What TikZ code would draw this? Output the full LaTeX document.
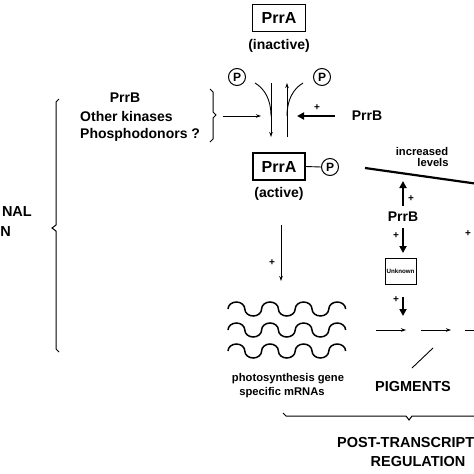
\documentclass[tikz,border=0pt]{standalone}
\usepackage{fontspec}
\setmainfont{Liberation Sans}
\usetikzlibrary{arrows.meta}
\newcommand{\fs}[1]{\fontsize{#1}{#1}\selectfont}
\begin{document}
\begin{tikzpicture}[x=1pt,y=-1pt,
  every node/.style={inner sep=0pt,font=\bfseries},
  protbox/.style={draw,line width=1.1pt,minimum width=53pt,minimum height=27pt,font=\bfseries\fs{16}},
  pcirc/.style={circle,draw,line width=1pt,minimum size=17pt,font=\bfseries\fs{12}},
  lbl/.style={font=\bfseries\fs{14}},
  small/.style={font=\bfseries\fs{11.2}},
  plus/.style={font=\bfseries\fs{10}},
  big/.style={font=\bfseries\fs{14.5}},
  thin/.style={line width=0.9pt},
  thinarr/.style={line width=0.9pt,-{Stealth[length=5pt,width=3.5pt]}},
  thickarr/.style={line width=2.4pt,-{Triangle[length=7pt,width=7pt]}},
  wave/.style={line width=1.5pt},
  brace/.style={line width=1pt}]
\useasboundingbox (0,0) rectangle (474,474);
\fill[white] (0,0) rectangle (474,474);

% top PrrA (inactive)
\node[protbox] (prrA1) at (279,18) {PrrA};
\node[lbl] (inact) at (279,46) {(inactive)};

% phosphorylation
\node[pcirc] (pL) at (237,77) {P};
\node[pcirc] (pR) at (322,77) {P};
\coordinate (lt) at (271,83);
\coordinate (lb) at (271,137);
\coordinate (rt) at (287,83);
\coordinate (rb) at (287,137);
\coordinate (cl) at (255,83);
\coordinate (cr) at (303,83);
\coordinate (ml) at (271,116);
\coordinate (mr) at (287,116);
\draw[thinarr] (lt) -- (lb);
\draw[thinarr] (rb) -- (rt);
\draw[thin] (cl) .. controls (265,89) and (271,100) .. (ml);
\draw[thin] (mr) .. controls (287,100) and (293,89) .. (cr);

% left kinases
\node[lbl] (prrBl) at (125,98) {PrrB};
\node[lbl,anchor=west] (ok) at (80,116) {Other kinases};
\node[lbl,anchor=west] (pd) at (80,135) {Phosphodonors ?};
\draw[brace] (210,89) -- (213,92) -- (213,112) -- (216,115) -- (213,118) -- (213,139) -- (210,142);
\coordinate (ha1) at (223,116);
\coordinate (ha2) at (261,116);
\draw[thinarr] (ha1) -- (ha2);

% right PrrB
\node[lbl] (prrBr) at (367,116) {PrrB};
\coordinate (ta1) at (335,116);
\coordinate (ta2) at (297,116);
\draw[thickarr] (ta1) -- (ta2);
\node[plus] (pl1) at (317,108) {+};

% active PrrA
\node[protbox,minimum width=52pt] (prrA2) at (279,166.5) {PrrA};
\node[pcirc] (pA) at (330,167) {P};
\draw[thin] (prrA2.east) -- (pA.west);
\node[lbl] (act) at (279,194) {(active)};

% arrow to mRNAs
\coordinate (da1) at (281,225);
\coordinate (da2) at (281,281);
\draw[thinarr] (da1) -- (da2);
\node[plus] (pl2) at (272,263) {+};

% waves
\foreach \yy in {309,330,351}{
  \draw[wave] (228,\yy)
    arc[start angle=180,end angle=360,x radius=8.4,y radius=7]
    arc[start angle=180,end angle=0,x radius=8.4,y radius=7]
    arc[start angle=180,end angle=360,x radius=8.4,y radius=7]
    arc[start angle=180,end angle=0,x radius=8.4,y radius=7]
    arc[start angle=180,end angle=360,x radius=8.4,y radius=7]
    arc[start angle=180,end angle=0,x radius=8.4,y radius=7]
    arc[start angle=180,end angle=360,x radius=8.4,y radius=7];
}
\node[small] (ps1) at (288,379) {photosynthesis gene};
\node[small] (ps2) at (282,393) {specific mRNAs};

% increased levels line
\coordinate (il1) at (365,168);
\coordinate (il2) at (482,184.5);
\draw[line width=2.2pt] (il1) -- (il2);
\node[small] (inc) at (422,151) {increased};
\node[small] (lev) at (433,162) {levels};

% PrrB middle
\node[lbl] (prrBm) at (403,217) {PrrB};
\coordinate (ua1) at (403,206);
\coordinate (ua2) at (403,181);
\draw[thickarr] (ua1) -- (ua2);
\node[plus] (pl3) at (411,199) {+};
\coordinate (dn1) at (403,228);
\coordinate (dn2) at (403,253);
\draw[thickarr] (dn1) -- (dn2);
\node[plus] (pl4) at (396,236) {+};

\node[draw,line width=0.9pt,minimum width=31pt,minimum height=26pt,font=\bfseries\fs{6.2}] (unk) at (400.5,271) {Unknown};
\coordinate (dn3) at (403,297);
\coordinate (dn4) at (403,316);
\draw[thickarr] (dn3) -- (dn4);
\node[plus] (pl5) at (396,300) {+};
\node[plus] (pl6) at (468,234) {+};

% pathway arrows
\coordinate (pa1) at (376,330);
\coordinate (pa2) at (406,330);
\coordinate (pa3) at (421,330);
\coordinate (pa4) at (451,330);
\coordinate (pa5) at (465,330);
\coordinate (pa6) at (490,330);
\draw[thinarr] (pa1) -- (pa2);
\draw[thinarr] (pa3) -- (pa4);
\draw[thinarr] (pa5) -- (pa6);
\coordinate (sl1) at (412,368);
\coordinate (sl2) at (433,348);
\draw[thin] (sl1) -- (sl2);
\node[big] (pig) at (413,387) {PIGMENTS};

% bottom brace
\draw[brace] (283,413) -- (286,416) -- (406,416) -- (409,420) -- (412,416) -- (490,416);
\node[big,anchor=west] (post1) at (337,443) {POST-TRANSCRIPT};
\node[big] (post2) at (418,462) {REGULATION};

% left brace
\draw[brace] (59,99) -- (56,102) -- (56,225) -- (52,228) -- (56,231) -- (56,349) -- (59,352);
\node[big,anchor=east] (tr1) at (32,212) {NAL};
\node[big,anchor=east] (tr2) at (11,232) {N};
\end{tikzpicture}
\end{document}
